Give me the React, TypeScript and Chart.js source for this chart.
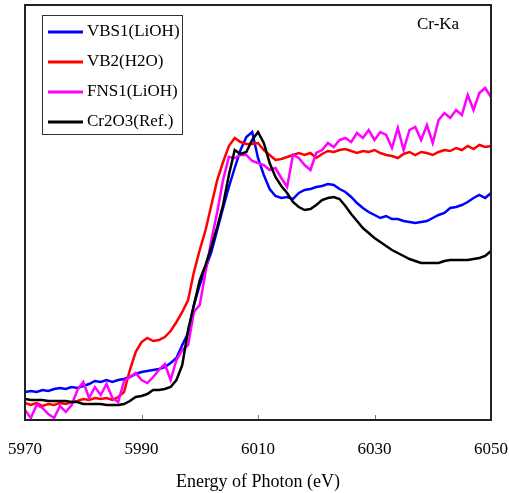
import React, { useEffect, useRef } from "react";
import { Chart, registerables } from "chart.js";

Chart.register(...registerables);

// Photon energy grid (eV)
const energy = [
  5970, 5971, 5972, 5973, 5974, 5975, 5976, 5977, 5978, 5979,
  5980, 5981, 5982, 5983, 5984, 5985, 5986, 5987, 5988, 5989,
  5990, 5991, 5992, 5993, 5994, 5995, 5996, 5997, 5998, 5999,
  6000, 6001, 6002, 6003, 6004, 6005, 6006, 6007, 6008, 6009,
  6010, 6011, 6012, 6013, 6014, 6015, 6016, 6017, 6018, 6019,
  6020, 6021, 6022, 6023, 6024, 6025, 6026, 6027, 6028, 6029,
  6030, 6031, 6032, 6033, 6034, 6035, 6036, 6037, 6038, 6039,
  6040, 6041, 6042, 6043, 6044, 6045, 6046, 6047, 6048, 6049,
  6050,
];

// Intensity (a.u.)
const vbs1 = [
  28, 29, 28, 30, 29, 31, 32, 31, 33, 32,
  34, 36, 39, 38, 40, 38, 40, 41, 43, 46,
  48, 49, 50, 51, 53, 57, 62, 75, 87, 115,
  135, 152, 168, 190, 212, 233, 252, 270, 283, 288,
  262, 245, 231, 224, 222, 223, 221, 227, 230, 231,
  233, 234, 236, 235, 231, 228, 223, 217, 212, 208,
  205, 202, 204, 201, 201, 199, 198, 197, 198, 199,
  202, 205, 207, 212, 213, 215, 218, 222, 225, 222,
  227,
];

const vb2 = [
  17, 15, 17, 14, 16, 15, 17, 16, 18, 19,
  21, 20, 22, 21, 22, 20, 23, 28, 50, 68,
  78, 82, 79, 80, 83, 89, 98, 108, 120, 148,
  170, 190, 215, 240, 258, 274, 282, 278, 276, 276,
  277, 270, 265, 260, 261, 263, 265, 267, 265, 267,
  262, 266, 269, 268, 270, 271, 269, 267, 269, 268,
  270, 267, 265, 264, 262, 266, 268, 265, 268, 267,
  265, 268, 270, 269, 272, 270, 274, 271, 275, 273,
  274,
];

const fns1 = [
  10, 2, 15, 12, 6, 2, 14, 8, 15, 30,
  38, 22, 33, 25, 36, 22, 18, 39, 43, 47,
  40, 37, 43, 50, 56, 40, 60, 70, 75, 108,
  115, 148, 180, 208, 240, 263, 262, 265, 265, 259,
  257, 255, 250, 252, 242, 233, 265, 262, 255, 250,
  267, 270, 277, 273, 280, 282, 278, 287, 282, 290,
  280, 288, 285, 272, 292, 270, 290, 293, 280, 295,
  277, 300, 307, 302, 310, 305, 325, 310, 327, 332,
  323,
];

const cr2o3 = [
  21, 20, 20, 20, 19, 19, 19, 19, 18, 18,
  16, 16, 16, 16, 15, 15, 15, 16, 19, 23,
  24, 26, 30, 30, 31, 33, 40, 55, 90, 115,
  140, 155, 173, 193, 215, 245, 270, 266, 268, 280,
  288, 277, 257, 243, 234, 227, 218, 213, 210, 211,
  215, 220, 222, 223, 221, 214, 206, 199, 192, 187,
  182, 178, 174, 170, 167, 164, 161, 159, 157, 157,
  157, 157, 159, 160, 160, 160, 160, 161, 162, 164,
  169,
];

const seriesNames = ["VBS1(LiOH)", "VB2(H2O)", "FNS1(LiOH)", "Cr2O3(Ref.)"];
const seriesColors = ["#0000ff", "#ff0000", "#ff00ff", "#000000"];
const xTicks = [5970, 5990, 6010, 6030, 6050];
const panelLabel = "Cr-Ka";
const xTitle = "Energy of Photon (eV)";

const FONT = '"Liberation Serif", "Times New Roman", serif';

export default function App() {
  const ref = useRef<HTMLCanvasElement>(null);

  useEffect(() => {
    const canvas = ref.current;
    if (!canvas) return;
    const series = [vbs1, vb2, fns1, cr2o3];
    const orders = [4, 3, 2, 1];

    const decorPlugin = {
      id: "decor",
      afterDatasetsDraw(chart: any) {
        const { ctx, chartArea: a, scales } = chart;
        ctx.save();
        // inward tick marks
        ctx.strokeStyle = "#777";
        ctx.lineWidth = 1;
        xTicks.forEach((v) => {
          const x = Math.round(scales.x.getPixelForValue(v)) + 0.5;
          ctx.beginPath();
          ctx.moveTo(x, a.bottom);
          ctx.lineTo(x, a.bottom - 5);
          ctx.stroke();
        });
        // frame
        ctx.strokeStyle = "#222";
        ctx.lineWidth = 2;
        ctx.strokeRect(a.left, a.top, a.right - a.left, a.bottom - a.top);
        // panel label
        ctx.fillStyle = "#000";
        ctx.font = `17px ${FONT}`;
        ctx.textBaseline = "middle";
        ctx.textAlign = "left";
        ctx.fillText(panelLabel, a.right - 74, a.top + 20);
        // legend
        const lx = a.left + 17;
        const ly = a.top + 10;
        const lw = 140;
        const lh = 119;
        ctx.fillStyle = "#fff";
        ctx.fillRect(lx, ly, lw, lh);
        ctx.strokeStyle = "#333";
        ctx.lineWidth = 1;
        ctx.strokeRect(lx + 0.5, ly + 0.5, lw, lh);
        chart.data.datasets.forEach((ds: any, i: number) => {
          const y = ly + 17 + 30 * i;
          ctx.strokeStyle = ds.borderColor;
          ctx.lineWidth = 3;
          ctx.beginPath();
          ctx.moveTo(lx + 6, y);
          ctx.lineTo(lx + 41, y);
          ctx.stroke();
          ctx.fillStyle = "#000";
          ctx.fillText(ds.label, lx + 45, y);
        });
        ctx.restore();
      },
    };

    const chart = new Chart(canvas, {
      type: "line",
      data: {
        datasets: series.map((vals, i) => ({
          label: seriesNames[i],
          data: energy.map((e, j) => ({ x: e, y: vals[j] })),
          borderColor: seriesColors[i],
          backgroundColor: seriesColors[i],
          borderWidth: 2.5,
          pointRadius: 0,
          tension: 0,
          fill: false,
          order: orders[i],
        })),
      },
      options: {
        animation: false,
        responsive: false,
        maintainAspectRatio: false,
        devicePixelRatio: 1,
        layout: { padding: { left: 25, right: 18, top: 5, bottom: 0 } },
        plugins: {
          legend: { display: false },
          tooltip: { enabled: false },
        },
        scales: {
          x: {
            type: "linear",
            min: 5970,
            max: 6050,
            afterFit: (scale: any) => {
              scale.height = 73;
              scale.paddingLeft = 0;
              scale.paddingRight = 0;
            },
            afterBuildTicks: (scale: any) => {
              scale.ticks = xTicks.map((v) => ({ value: v }));
            },
            ticks: {
              autoSkip: false,
              maxRotation: 0,
              padding: 19,
              color: "#000",
              font: { family: FONT, size: 17 },
              callback: (v: any) => String(v),
            },
            grid: { display: false, drawTicks: false },
            border: { display: false },
            title: {
              display: true,
              text: xTitle,
              color: "#000",
              font: { family: FONT, size: 18 },
              padding: { top: 0, bottom: 0 },
            },
          },
          y: {
            display: false,
            min: 0,
            max: 415,
          },
        },
      },
      plugins: [decorPlugin],
    });

    return () => chart.destroy();
  }, []);

  return (
    <div style={{ position: "absolute", left: 0, top: 0, width: 509, height: 493, background: "#fff" }}>
      <canvas ref={ref} width={509} height={493} style={{ display: "block", width: 509, height: 493 }} />
    </div>
  );
}
